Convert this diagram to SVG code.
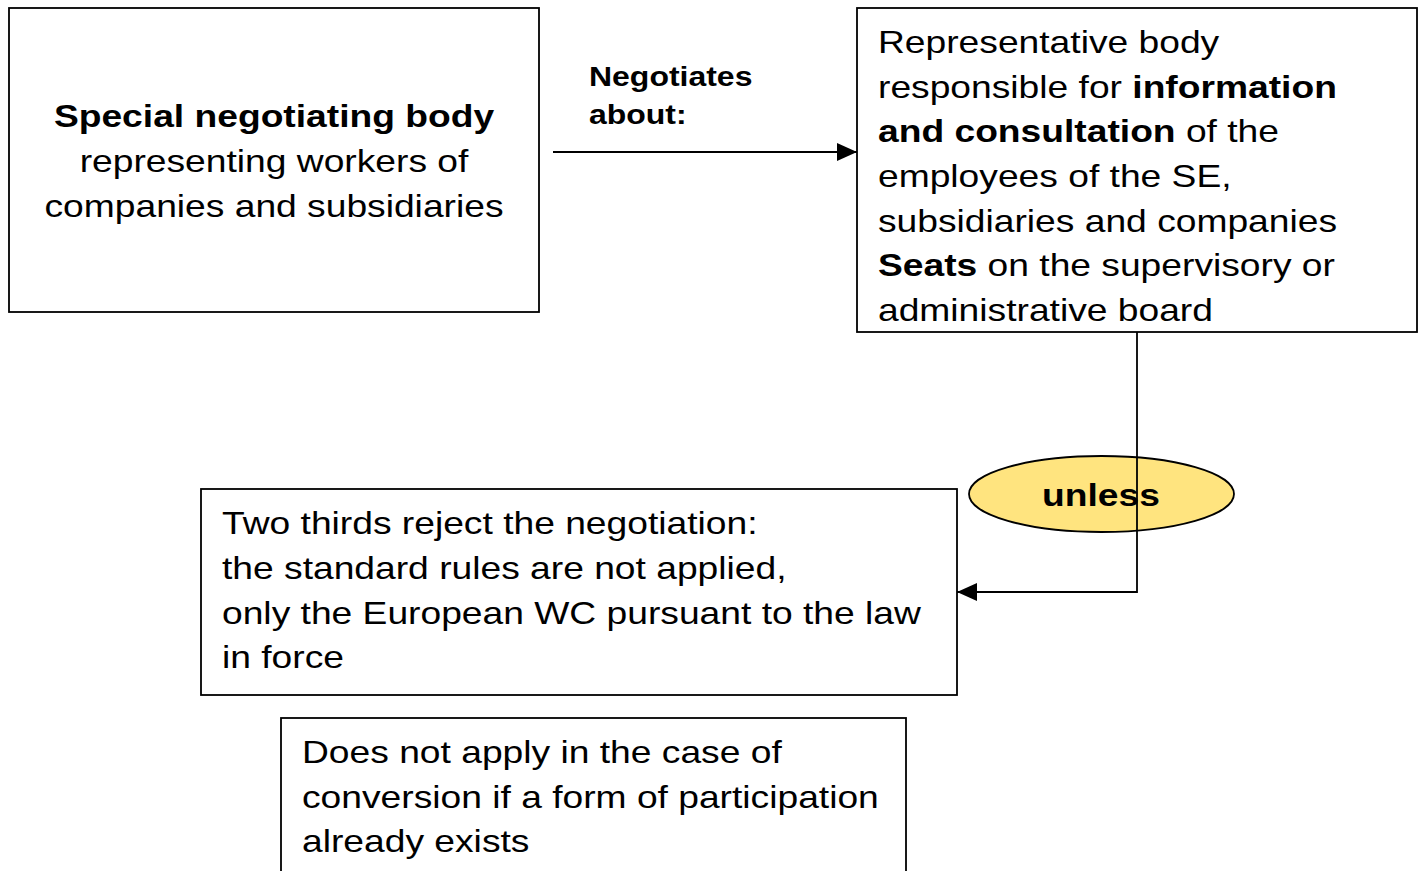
<svg xmlns="http://www.w3.org/2000/svg" width="1418" height="871" viewBox="0 0 1418 871">
<style>
.box{fill:#fff;stroke:#000;stroke-width:1.8}
text{font-family:"Liberation Sans",Arial,sans-serif;font-size:32px;fill:#000}
.b{font-weight:bold}
.line{fill:none;stroke:#000;stroke-width:1.8}
</style>
<defs>
<marker id="arr" markerWidth="20" markerHeight="20" refX="20" refY="10" orient="auto" markerUnits="userSpaceOnUse" viewBox="0 0 20 20">
<path d="M0,1 L20,10 L0,19 Z" fill="#000"/>
</marker>
</defs>
<rect width="1418" height="871" fill="#fff"/>
<g id="snb">
<rect class="box" x="9" y="8" width="530" height="304"/>
<text transform="matrix(1.163 0 0 1 274 0)" text-anchor="middle"><tspan x="0" y="127" class="b">Special negotiating body</tspan><tspan x="0" y="172">representing workers of</tspan><tspan x="0" y="217">companies and subsidiaries</tspan></text>
</g>
<g id="rep">
<rect class="box" x="857" y="8" width="560" height="324"/>
<text transform="matrix(1.163 0 0 1 878 0)"><tspan x="0" y="53">Representative body</tspan><tspan x="0" y="98">responsible for <tspan class="b">information</tspan></tspan><tspan x="0" y="142" class="b">and consultation</tspan><tspan> of the</tspan><tspan x="0" y="187">employees of the SE,</tspan><tspan x="0" y="232">subsidiaries and companies</tspan><tspan x="0" y="276" class="b">Seats</tspan><tspan> on the supervisory or</tspan><tspan x="0" y="321">administrative board</tspan></text>
</g>
<g id="reject">
<rect class="box" x="201" y="489" width="756" height="206"/>
<text transform="matrix(1.163 0 0 1 222 0)"><tspan x="0" y="534">Two thirds reject the negotiation:</tspan><tspan x="0" y="579">the standard rules are not applied,</tspan><tspan x="0" y="624">only the European WC pursuant to the law</tspan><tspan x="0" y="668">in force</tspan></text>
</g>
<g id="conv">
<rect class="box" x="281" y="718" width="625" height="170"/>
<text transform="matrix(1.163 0 0 1 302 0)"><tspan x="0" y="763">Does not apply in the case of</tspan><tspan x="0" y="808">conversion if a form of participation</tspan><tspan x="0" y="852">already exists</tspan></text>
</g>
<g id="unless">
<ellipse cx="1101.5" cy="494" rx="132.5" ry="38" fill="#FFE47F" stroke="#000" stroke-width="1.8"/>
<text transform="matrix(1.163 0 0 1 1101 0)" x="0" y="506" text-anchor="middle" class="b">unless</text>
</g>
<g id="connectors">
<text transform="matrix(1.163 0 0 1 589 0)" class="b" style="font-size:27.5px"><tspan x="0" y="86">Negotiates</tspan><tspan x="0" y="124">about:</tspan></text>
<line class="line" x1="553" y1="152" x2="857" y2="152" marker-end="url(#arr)"/>
<polyline class="line" points="1137,332 1137,592 957,592" marker-end="url(#arr)"/>
</g>
</svg>
